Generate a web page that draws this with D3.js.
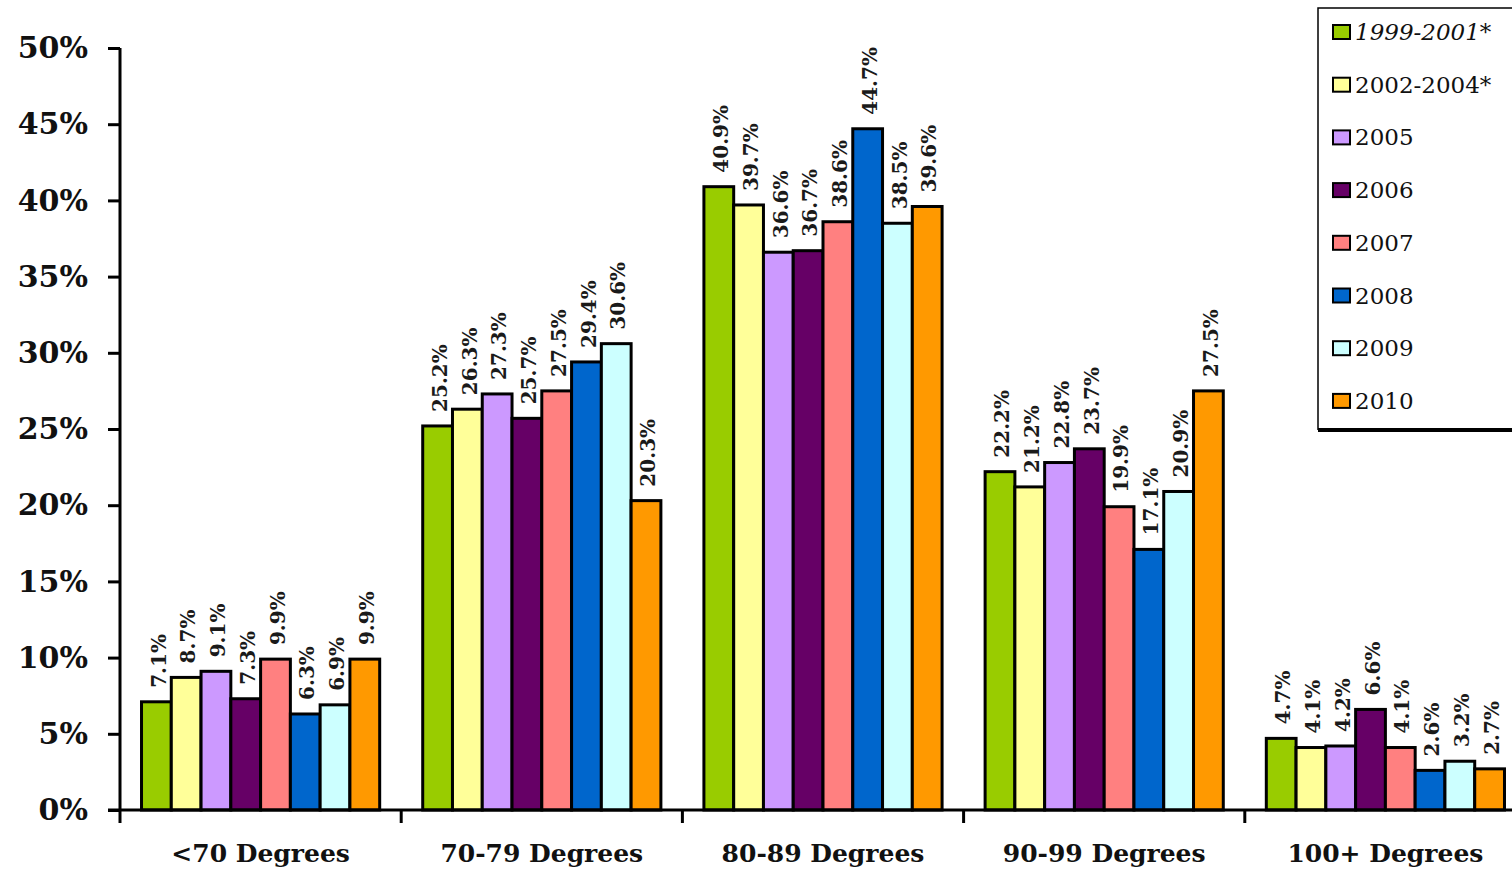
<!DOCTYPE html>
<html>
<head>
<meta charset="utf-8">
<script src="https://cdn.jsdelivr.net/npm/d3@7"></script>
<style>
  html, body { margin: 0; padding: 0; background: #fff; }
  svg { display: block; }
</style>
</head>
<body>
<svg id="chart" width="1512" height="874"></svg>
<script>
const categories = ["<70 Degrees", "70-79 Degrees", "80-89 Degrees", "90-99 Degrees", "100+ Degrees"];
const seriesNames = ["1999-2001*", "2002-2004*", "2005", "2006", "2007", "2008", "2009", "2010"];
const seriesColors = ["#99CC00", "#FFFF99", "#CC99FF", "#660066", "#FF8080", "#0066CC", "#CCFFFF", "#FF9900"];
const s1999_2001 = [7.1, 25.2, 40.9, 22.2, 4.7];
const s2002_2004 = [8.7, 26.3, 39.7, 21.2, 4.1];
const s2005 = [9.1, 27.3, 36.6, 22.8, 4.2];
const s2006 = [7.3, 25.7, 36.7, 23.7, 6.6];
const s2007 = [9.9, 27.5, 38.6, 19.9, 4.1];
const s2008 = [6.3, 29.4, 44.7, 17.1, 2.6];
const s2009 = [6.9, 30.6, 38.5, 20.9, 3.2];
const s2010 = [9.9, 20.3, 39.6, 27.5, 2.7];
const yTicks = [0, 5, 10, 15, 20, 25, 30, 35, 40, 45, 50];

const seriesValues = [s1999_2001, s2002_2004, s2005, s2006, s2007, s2008, s2009, s2010];

const svg = d3.select("#chart");
const x0 = d3.scaleBand().domain(categories).range([120, 1526]).paddingInner(0.153).paddingOuter(0.0765);
const x1 = d3.scaleBand().domain(seriesNames).range([0, x0.bandwidth()]).padding(0);
const y = d3.scaleLinear().domain([0, 50]).range([810, 48]);
const color = d3.scaleOrdinal().domain(seriesNames).range(seriesColors);

const rows = [];
categories.forEach((c, ci) => {
  seriesNames.forEach((s, si) => rows.push({cat: c, ser: s, v: seriesValues[si][ci]}));
});

// bars
svg.append("g").selectAll("rect").data(rows).join("rect")
  .attr("x", d => x0(d.cat) + x1(d.ser))
  .attr("y", d => y(d.v))
  .attr("width", x1.bandwidth())
  .attr("height", d => y(0) - y(d.v))
  .attr("fill", d => color(d.ser))
  .attr("stroke", "#000")
  .attr("stroke-width", 3);

// value labels
svg.append("g").selectAll("text").data(rows).join("text")
  .attr("transform", d => `translate(${x0(d.cat) + x1(d.ser) + x1.bandwidth() / 2 + 2},${y(d.v) - 14}) rotate(-90)`)
  .attr("dy", "0.36em")
  .attr("text-anchor", "start")
  .attr("font-family", "DejaVu Serif")
  .attr("font-weight", "bold")
  .attr("font-size", 20)
  .attr("fill", "#1a1a1a")
  .text(d => d.v.toFixed(1) + "%");

// y axis
const yAxis = d3.axisLeft(y).tickValues(yTicks).tickSize(12).tickPadding(20).tickFormat(d => d + "%");
const gy = svg.append("g").attr("transform", "translate(120,0)").call(yAxis);
gy.select(".domain").attr("stroke", "#000").attr("stroke-width", 3).attr("d", "M0,48V810");
gy.selectAll(".tick line").attr("stroke", "#000").attr("stroke-width", 3);
gy.selectAll(".tick text")
  .attr("font-family", "DejaVu Serif")
  .attr("font-weight", "bold")
  .attr("font-size", 30)
  .attr("fill", "#111");

// x axis
const boundaries = categories.map(c => x0(c) - x0.step() * x0.paddingInner() / 2);
const gx = svg.append("g");
gx.append("line").attr("x1", 108).attr("x2", 1512).attr("y1", 810).attr("y2", 810)
  .attr("stroke", "#000").attr("stroke-width", 3);
gx.selectAll("line.t").data(boundaries).join("line").attr("class", "t")
  .attr("x1", d => d).attr("x2", d => d).attr("y1", 810).attr("y2", 823)
  .attr("stroke", "#000").attr("stroke-width", 3);
gx.selectAll("text").data(categories).join("text")
  .attr("x", d => x0(d) + x0.bandwidth() / 2)
  .attr("y", 862)
  .attr("text-anchor", "middle")
  .attr("font-family", "DejaVu Serif")
  .attr("font-weight", "bold")
  .attr("font-size", 25)
  .attr("fill", "#111")
  .text(d => d);

// legend
const lg = svg.append("g");
lg.append("line").attr("x1", 1318).attr("x2", 1512).attr("y1", 430).attr("y2", 430).attr("stroke", "#000").attr("stroke-width", 4);
lg.append("path").attr("d", "M1318,430V8H1512").attr("fill", "none").attr("stroke", "#000").attr("stroke-width", 1.5);
const li = lg.selectAll("g.item").data(seriesNames).join("g").attr("class", "item")
  .attr("transform", (d, i) => `translate(1332,${32 + i * 52.7})`);
li.append("rect").attr("x", 1).attr("y", -7).attr("width", 17).attr("height", 14)
  .attr("fill", d => color(d)).attr("stroke", "#000").attr("stroke-width", 2);
li.append("text").attr("x", 23).attr("y", 8)
  .attr("font-family", "DejaVu Serif")
  .attr("font-size", 23)
  .attr("font-style", (d, i) => i === 0 ? "italic" : "normal")
  .attr("fill", "#111")
  .text(d => d);
</script>
</body>
</html>
